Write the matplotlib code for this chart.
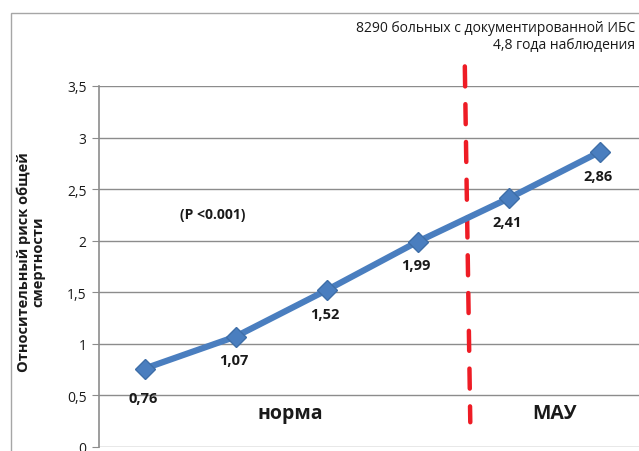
import matplotlib.pyplot as plt
from matplotlib.patches import Rectangle

plt.rcParams['font.family'] = ['Open Sans', 'DejaVu Sans']

# относительный риск по группам
groups = [1, 2, 3, 4, 5, 6]
risk = [0.76, 1.07, 1.52, 1.99, 2.41, 2.86]
risk_labels = ["0,76", "1,07", "1,52", "1,99", "2,41", "2,86"]
yticks = [0, 0.5, 1, 1.5, 2, 2.5, 3, 3.5]
ytick_labels = ["0", "0,5", "1", "1,5", "2", "2,5", "3", "3,5"]

fig = plt.figure(figsize=(6.39, 4.52), dpi=100)

# рамка диаграммы
fig.patches.append(Rectangle((11 / 639, -0.1), 1.0, 1 - 14 / 452 + 0.1,
                             transform=fig.transFigure, fill=False,
                             edgecolor="#a6a6a6", linewidth=1.0))

ax = fig.add_axes([99 / 639, 4 / 452, 546 / 639, 361 / 452])
ax.set_xlim(0.5, 6.5)
ax.set_ylim(0, 3.5)
ax.set_yticks(yticks)
ax.set_yticklabels(ytick_labels, fontsize=10)
ax.set_xticks([])
ax.yaxis.grid(True, color="#8c8c8c", linewidth=1.0)
ax.set_axisbelow(True)
ax.tick_params(axis="y", length=5, color="#8c8c8c", pad=4, labelcolor="#1a1a1a")
for s in ["top", "right", "bottom"]:
    ax.spines[s].set_visible(False)
ax.spines["left"].set_color("#8c8c8c")
ax.spines["left"].set_linewidth(1.2)

ax.plot(groups, risk, color="#4a7ebf", linewidth=4.5, marker="D",
        markersize=10, markerfacecolor="#4a7ebf", markeredgecolor="#3e6ea8",
        zorder=3)

for x, y, lab in zip(groups, risk, risk_labels):
    dy = -21 if lab == "0,76" else -17
    ax.annotate(lab, (x, y), xytext=(-1, dy), textcoords="offset points",
                ha="center", va="center", fontsize=10.5, fontweight="bold",
                color="#1a1a1a")

# граница норма / МАУ
ax.plot([4.52, 4.58], [3.69, 0.24], color="#ee1c25", linewidth=3.2,
        linestyle=(0, (4.5, 4)), solid_capstyle="round",
        dash_capstyle="round", clip_on=False, zorder=2)

ax.text(1.75, 2.26, "(P <0.001)", ha="center", va="center", fontsize=10,
        fontweight="bold", color="#1a1a1a")
ax.text(2.6, 0.33, "норма", ha="center", va="center", fontsize=14,
        fontweight="bold", color="#1a1a1a")
ax.text(5.51, 0.33, "МАУ", ha="center", va="center", fontsize=14,
        fontweight="bold", color="#1a1a1a")

fig.text(635 / 639, 1 - 37 / 452,
         "8290 больных с документированной ИБС\n4,8 года наблюдения",
         ha="right", va="center", multialignment="right", fontsize=10,
         color="#1a1a1a", linespacing=1.15)

fig.text(31 / 639, 1 - 262 / 452, "Относительный риск общей\nсмертности",
         rotation=90, ha="center", va="center", multialignment="center",
         fontsize=10.5, fontweight="bold", color="#1a1a1a", linespacing=1.1)

fig.savefig("out.png", dpi=100)
